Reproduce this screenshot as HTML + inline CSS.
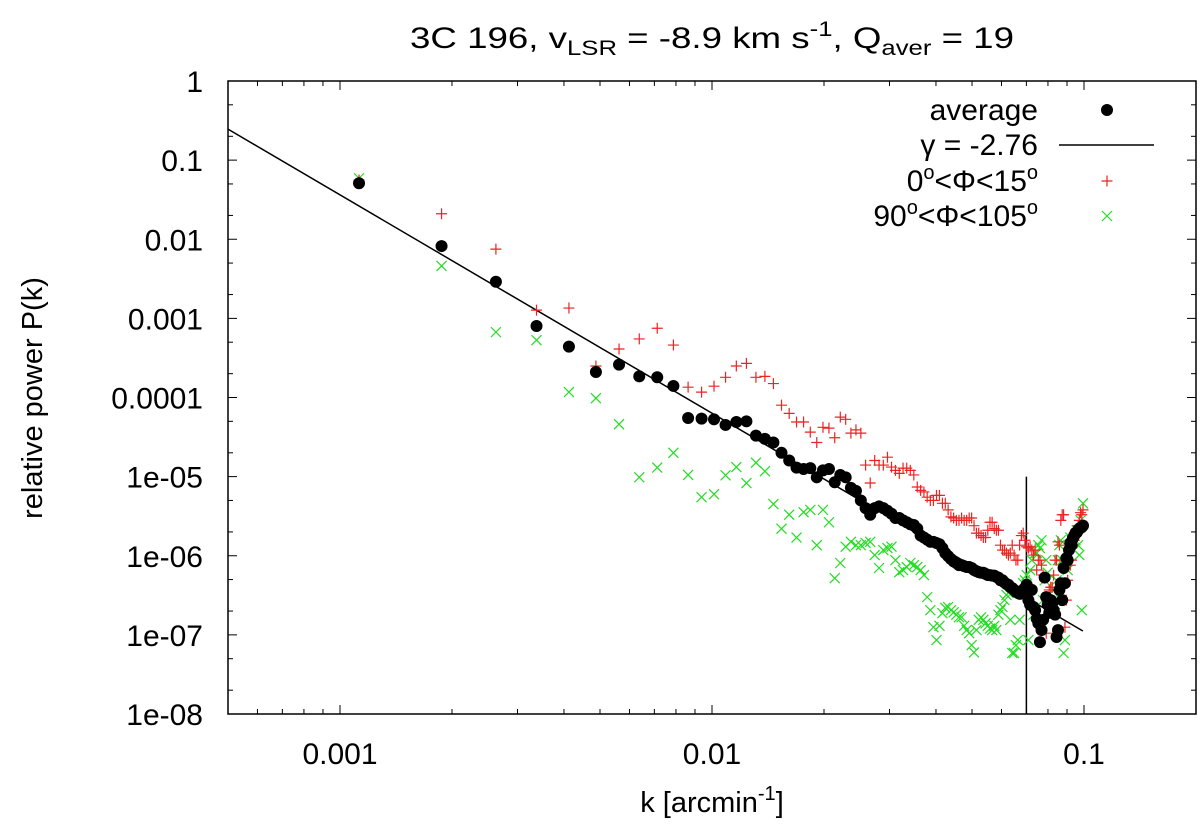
<!DOCTYPE html>
<html><head><meta charset="utf-8"><style>
html,body{margin:0;padding:0;background:#fff;}
svg{display:block;font-family:"Liberation Sans",Arial,sans-serif;}
</style></head><body>
<svg id="chart" width="1200" height="826" viewBox="0 0 1200 826" xmlns="http://www.w3.org/2000/svg">
<text x="712" y="48" font-size="30" text-anchor="middle" textLength="604" lengthAdjust="spacingAndGlyphs">3C 196, v<tspan font-size="21" dy="7">LSR</tspan><tspan dy="-7"> = -8.9 km s</tspan><tspan font-size="21" dy="-12">-1</tspan><tspan dy="12">, Q</tspan><tspan font-size="21" dy="7">aver</tspan><tspan dy="-7"> = 19</tspan></text>
<text x="712" y="812" font-size="29" text-anchor="middle">k [arcmin<tspan font-size="20" dy="-12">-1</tspan><tspan dy="12">]</tspan></text>
<text transform="translate(42,398) rotate(-90)" font-size="29" text-anchor="middle">relative power P(k)</text>
<g id="axes"></g>
<g id="marks"></g>
<g id="legend"></g>
</svg>
<script>
const xDomain = [5e-4, 0.2];
const yDomain = [1e-8, 1];
const xTickValues = [0.001, 0.01, 0.1];
const xTickLabels = ["0.001", "0.01", "0.1"];
const yTickValues = [1e-8,1e-7,1e-6,1e-5,1e-4,1e-3,1e-2,1e-1,1];
const yTickLabels = ["1e-08","1e-07","1e-06","1e-05","0.0001","0.001","0.01","0.1","1"];
// wavenumber grid step (arcmin^-1)
const kStep = 0.00075;
const kOffset = 0.000375;
const avgP = [0.051,0.0082,0.0029,8.0e-4,4.4e-4,2.1e-4,2.6e-4,1.85e-4,1.8e-4,1.4e-4,5.5e-5,5.4e-5,
5.3e-5,4.5e-5,4.9e-5,5.0e-5,3.3e-5,3.0e-5,2.7e-5,2.0e-5,1.6e-5,1.3e-5,1.25e-5,1.28e-5,9.8e-6,1.2e-5,1.25e-5,8.5e-6,1.05e-5,9.8e-6,
7.2e-6,6.6e-6,5.0e-6,4.0e-6,3.3e-6,4.0e-6,4.2e-6,4.0e-6,3.7e-6,3.4e-6,3.0e-6,3.0e-6,2.8e-6,2.65e-6,2.5e-6,2.45e-6,2.2e-6,1.8e-6,1.7e-6,1.6e-6,
1.5e-6,1.5e-6,1.45e-6,1.4e-6,1.25e-6,1.08e-6,9.9e-7,9.1e-7,8.5e-7,8.1e-7,7.6e-7,7.6e-7,7.4e-7,7.2e-7,7.2e-7,7.0e-7,6.6e-7,6.4e-7,6.2e-7,6.1e-7,
6.1e-7,5.9e-7,5.7e-7,5.7e-7,5.6e-7,5.6e-7,5.4e-7,5.3e-7,4.9e-7,4.9e-7,4.6e-7,4.4e-7,4.3e-7,4.0e-7,3.9e-7,3.7e-7,3.5e-7,3.4e-7,3.3e-7,3.4e-7,
3.7e-7,3.9e-7,4.3e-7,2.75e-7,2.4e-7,3.7e-7,2.25e-7,2.05e-7,1.6e-7,1.4e-7,8.1e-8,1.15e-7,1.55e-7,5.3e-7,3.0e-7,2.4e-7,1.9e-7,2.75e-7,2.5e-7,2.05e-7,
1.8e-7,9.4e-8,1.15e-7,3.7e-7,4.5e-7,2.75e-7,7.0e-7,4.5e-7,9.3e-7,8.8e-7,1.18e-6,1.45e-6,1.36e-6,1.67e-6,1.8e-6,1.93e-6,1.97e-6,2.1e-6,2.2e-6,2.25e-6,
2.3e-6,2.4e-6];
const redP = [0.056,0.021,0.0075,1.27e-3,1.35e-3,2.5e-4,4.1e-4,5.5e-4,7.5e-4,4.6e-4,1.35e-4,1.17e-4,
1.39e-4,1.8e-4,2.5e-4,2.7e-4,1.8e-4,1.85e-4,1.5e-4,8.0e-5,6.3e-5,4.9e-5,4.9e-5,3.65e-5,2.7e-5,4.2e-5,4.1e-5,3.1e-5,5.65e-5,5.3e-5,
3.55e-5,3.9e-5,3.55e-5,1.4e-5,8.3e-6,1.6e-5,1.4e-5,1.4e-5,1.76e-5,1.32e-5,1.2e-5,1.1e-5,1.28e-5,1.28e-5,1.2e-5,1.05e-5,7.4e-6,6.7e-6,6.4e-6,5.5e-6,
5.0e-6,5.0e-6,5.8e-6,5.8e-6,4.6e-6,4.6e-6,3.8e-6,3.1e-6,3.0e-6,2.8e-6,2.8e-6,3.0e-6,2.8e-6,2.8e-6,3.0e-6,3.0e-6,2.4e-6,1.93e-6,1.93e-6,1.8e-6,
1.7e-6,1.7e-6,2.1e-6,2.65e-6,2.65e-6,2.2e-6,2.1e-6,2.1e-6,1.36e-6,1.18e-6,1.18e-6,1.08e-6,1.02e-6,1.08e-6,1.36e-6,1.02e-6,8.8e-7,8.8e-7,1.36e-6,1.8e-6,
1.93e-6,1.57e-6,1.3e-6,1.25e-6,1.3e-6,1.18e-6,1.02e-6,1.18e-6,6.6e-7,8.8e-7,8.8e-7,7.6e-7,5.7e-7,1.67e-7,1.05e-7,2.75e-7,3.7e-7,4.0e-7,4.0e-7,5.7e-7,
8.8e-7,8.8e-7,1.5e-6,1.36e-6,2.8e-6,3.3e-6,3.3e-6,1.25e-7,2.75e-7,4.9e-7,8.8e-7,7.6e-7,8.8e-7,1.36e-6,1.57e-6,2.1e-6,2.2e-6,2.4e-6,2.8e-6,3.5e-6,
3.3e-6,3.8e-6];
const greenP = [0.059,0.0046,6.7e-4,5.3e-4,1.17e-4,9.8e-5,4.6e-5,9.8e-6,1.3e-5,2.0e-5,1.05e-5,5.5e-6,
6.0e-6,1.04e-5,1.32e-5,8.3e-6,1.5e-5,1.17e-5,4.5e-6,2.2e-6,3.3e-6,1.7e-6,3.55e-6,3.8e-6,1.36e-6,3.8e-6,2.65e-6,5.2e-7,8.1e-7,1.3e-6,
1.5e-6,1.36e-6,1.36e-6,1.45e-6,1.5e-6,1.02e-6,7.0e-7,1.18e-6,1.25e-6,1.3e-6,8.8e-7,6.2e-7,6.6e-7,7.2e-7,8.1e-7,7.6e-7,7.2e-7,6.6e-7,5.7e-7,3.0e-7,
2.05e-7,1.25e-7,8.6e-8,1.3e-7,1.88e-7,2.2e-7,2.25e-7,2.05e-7,1.93e-7,1.8e-7,1.67e-7,1.67e-7,1.3e-7,1.15e-7,1.05e-7,7.4e-8,6.0e-8,1.15e-7,1.55e-7,1.67e-7,
1.55e-7,1.4e-7,1.3e-7,1.2e-7,1.15e-7,1.3e-7,1.15e-7,1.8e-7,2.05e-7,2.25e-7,2.75e-7,3.2e-7,3.4e-7,1.55e-7,5.9e-8,5.9e-8,7.4e-8,8.6e-8,1.55e-7,3.7e-7,
4.5e-7,4.9e-7,5.7e-7,8.6e-8,6.6e-7,8.8e-7,1.8e-7,1.08e-6,1.08e-6,1.36e-6,1.25e-6,1.57e-6,2.75e-7,4.9e-7,8.8e-7,6.1e-7,2.75e-7,1.88e-7,2.75e-7,3.7e-7,
1.88e-7,4.9e-7,8.8e-7,1.36e-6,1.57e-6,8.8e-7,5.9e-8,8.6e-8,8.8e-7,6.6e-7,1.36e-6,1.7e-6,1.57e-6,1.45e-6,1.18e-6,1.57e-6,2.1e-6,1.36e-6,1.02e-6,2.8e-6,
2.05e-7,4.6e-6];
const fitGamma = -2.76;
const fitAmp = 1.91e-10;
const fitK = [5e-4, 0.0993];
const cutK = 0.07;
const cutTop = 1e-5;

const L=228,R=1196,T=81,B=714;
const lx0=Math.log10(xDomain[0]), lx1=Math.log10(xDomain[1]);
const ly0=Math.log10(yDomain[0]), ly1=Math.log10(yDomain[1]);
function X(k){return L+(Math.log10(k)-lx0)/(lx1-lx0)*(R-L);}
function Y(p){return B-(Math.log10(p)-ly0)/(ly1-ly0)*(B-T);}
const NS="http://www.w3.org/2000/svg";
function mk(tag,attrs,parent){const e=document.createElementNS(NS,tag);for(const a in attrs)e.setAttribute(a,attrs[a]);parent.appendChild(e);return e;}
const axes=document.getElementById('axes'), marks=document.getElementById('marks'), legend=document.getElementById('legend');

const frame=mk('rect',{x:L,y:T,width:R-L,height:B-T,fill:'none',stroke:'#000','stroke-width':1.5},axes);



for(let d=-4; d<=-1; d++){
  for(let m=1;m<=9;m++){
    const v=m*Math.pow(10,d);
    if(v<xDomain[0]-1e-12||v>xDomain[1]+1e-12) continue;
    const x=X(v), len=(m===1)?9:5;
    mk('line',{x1:x,y1:B,x2:x,y2:B-len,stroke:'#000','stroke-width':1},axes);
    mk('line',{x1:x,y1:T,x2:x,y2:T+len,stroke:'#000','stroke-width':1},axes);
  }
}
xTickValues.forEach((v,i)=>{
  const t=mk('text',{x:X(v),y:B+50,'font-size':30,'text-anchor':'middle'},axes);
  t.textContent=xTickLabels[i];
  
  
});
for(let d=-8; d<=0; d++){
  [1,2,5].forEach(m=>{
    const v=m*Math.pow(10,d);
    if(v>yDomain[1]+1e-12) return;
    const y=Y(v), len=(m===1)?9:5;
    mk('line',{x1:L,y1:y,x2:L+len,y2:y,stroke:'#000','stroke-width':1},axes);
    mk('line',{x1:R,y1:y,x2:R-len,y2:y,stroke:'#000','stroke-width':1},axes);
  });
}
yTickValues.forEach((v,i)=>{
  const t=mk('text',{x:203,y:Y(v)+11,'font-size':30,'text-anchor':'end'},axes);
  t.textContent=yTickLabels[i];
  
  
});

const fit=mk('line',{x1:X(fitK[0]),y1:Y(fitAmp*Math.pow(fitK[0],fitGamma)),x2:X(fitK[1]),y2:Y(fitAmp*Math.pow(fitK[1],fitGamma)),stroke:'#000','stroke-width':1.5},marks);


const cut=mk('line',{x1:X(cutK),y1:B,x2:X(cutK),y2:Y(cutTop),stroke:'#000','stroke-width':1.5},marks);



function kAt(i){return kStep*(i+1)+kOffset;}
function plus(x,y,c,parent){
  return mk('path',{d:`M${x-5.5},${y}H${x+5.5}M${x},${y-5.5}V${y+5.5}`,stroke:c,'stroke-width':1.2,fill:'none'},parent);
}
function cross(x,y,c,parent){
  return mk('path',{d:`M${x-5},${y-5}L${x+5},${y+5}M${x-5},${y+5}L${x+5},${y-5}`,stroke:c,'stroke-width':1.2,fill:'none'},parent);
}
greenP.forEach((p,i)=>{
  const e=cross(X(kAt(i)),Y(p),'#22dd22',marks);
  
  
});
redP.forEach((p,i)=>{
  const e=plus(X(kAt(i)),Y(p),'#ee2222',marks);
  
  
});
avgP.forEach((p,i)=>{
  const e=mk('circle',{cx:X(kAt(i)),cy:Y(p),r:6,fill:'#000'},marks);
  
  
});

const legRows=[110,145,181,216];
function ltext(y,html,name){
  const t=mk('text',{x:1038,y:y+10,'font-size':30,'text-anchor':'end'},legend);
  t.innerHTML=html;
  
  
}
ltext(legRows[0],'average','legend-label-average');
ltext(legRows[1],'γ = -2.76','legend-label-fit');
ltext(legRows[2],'0<tspan font-size="20" dy="-12">o</tspan><tspan dy="12">&lt;Φ&lt;15</tspan><tspan font-size="20" dy="-12">o</tspan>','legend-label-0-15');
ltext(legRows[3],'90<tspan font-size="20" dy="-12">o</tspan><tspan dy="12">&lt;Φ&lt;105</tspan><tspan font-size="20" dy="-12">o</tspan>','legend-label-90-105');
const ld=mk('circle',{cx:1107,cy:legRows[0],r:6,fill:'#000'},legend);


const ll=mk('line',{x1:1059,y1:legRows[1],x2:1154,y2:legRows[1],stroke:'#000','stroke-width':1.5},legend);


const lp=plus(1107,legRows[2],'#ee2222',legend);


const lc=cross(1107,legRows[3],'#22dd22',legend);


</script>
</body></html>
